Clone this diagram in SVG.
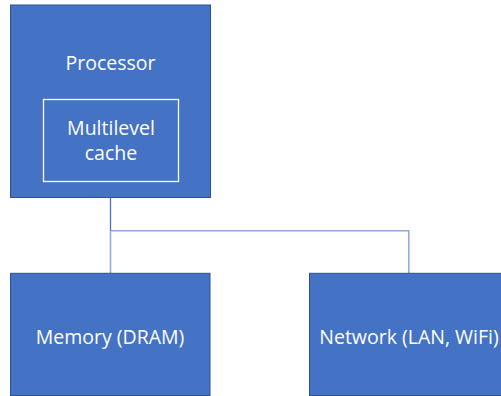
<svg xmlns="http://www.w3.org/2000/svg" width="501" height="396" viewBox="0 0 501 396">
<style>
.box{fill:#4472C4;stroke:#2F528F;stroke-width:1}
.inner{fill:none;stroke:#FFFFFF;stroke-width:1.3}
.t{font-family:"Open Sans","Liberation Sans",sans-serif;font-size:19.5px;fill:#FFFFFF;text-anchor:middle}
.c1{fill:none;stroke:#4472C4;stroke-width:1.3}
.c2{fill:none;stroke:#8FAADC;stroke-width:1.5}
</style>
<rect width="501" height="396" fill="#FFFFFF"/>
<g id="connectors">
<path class="c2" d="M110.5 230.8 V273.3"/>
<path class="c2" d="M110.5 230.8 H408.8 V273.3"/>
<path class="c1" d="M110.5 197.5 V230.8"/>
</g>
<g id="processor">
<rect class="box" x="10.5" y="5" width="200" height="192.5"/>
<text class="t" x="110.5" y="70">Processor</text>
</g>
<g id="cache">
<rect class="inner" x="43.5" y="99.5" width="135" height="82"/>
<text class="t" x="111" y="134.5">Multilevel</text>
<text class="t" x="111" y="160">cache</text>
</g>
<g id="memory">
<rect class="box" x="10.5" y="273.3" width="199.5" height="122.2"/>
<text class="t" x="110" y="343.5">Memory (DRAM)</text>
</g>
<g id="network">
<rect class="box" x="309.5" y="273.3" width="200" height="122.2"/>
<text class="t" x="409" y="343.5">Network (LAN, WiFi)</text>
</g>
</svg>
